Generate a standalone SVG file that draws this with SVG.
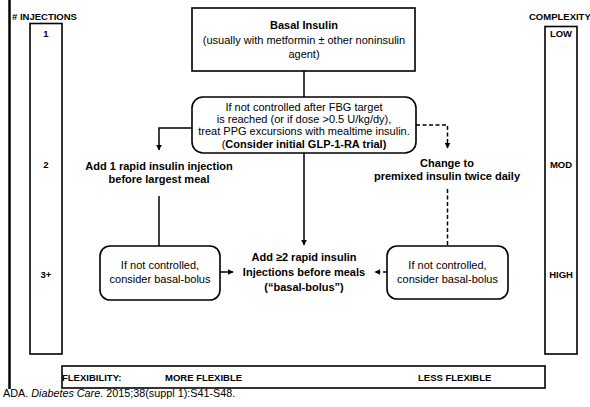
<svg xmlns="http://www.w3.org/2000/svg" width="590" height="407" viewBox="0 0 590 407">
<defs>
<style>
text{font-family:"Liberation Sans",Arial,sans-serif;fill:#000}
.t{font-size:11px}
.b{font-size:11px;font-weight:bold}
.s{font-size:9.5px;font-weight:bold}
.box{fill:#fff;stroke:#000;stroke-width:1.6}
.ln{fill:none;stroke:#000;stroke-width:1.5}
.dash{fill:none;stroke:#000;stroke-width:1.5;stroke-dasharray:4 2.5}
</style>
<marker id="ah" viewBox="0 0 10 10" refX="9" refY="5" markerWidth="6" markerHeight="6" orient="auto" markerUnits="userSpaceOnUse">
<path d="M0,0 L10,5 L0,10 z" fill="#000"/>
</marker>
</defs>
<rect width="590" height="407" fill="#fff"/>
<line x1="9.5" y1="0" x2="9.5" y2="389" stroke="#000" stroke-width="2.5"/>

<g id="injections">
<text class="s" x="12" y="20">#&#160;INJECTIONS</text>
<rect class="box" x="30" y="23.5" width="32" height="330.5" stroke-width="1.3"/>
<text class="s" x="46" y="37" text-anchor="middle">1</text>
<text class="s" x="46" y="168" text-anchor="middle">2</text>
<text class="s" x="46" y="278" text-anchor="middle">3+</text>
</g>

<g id="complexity">
<text class="s" x="529" y="20">COMPLEXITY</text>
<rect class="box" x="545" y="26.5" width="32" height="327.5" stroke-width="1.3"/>
<text class="s" x="561" y="37" text-anchor="middle">LOW</text>
<text class="s" x="561" y="168" text-anchor="middle">MOD</text>
<text class="s" x="561" y="278" text-anchor="middle">HIGH</text>
</g>

<g id="connectors">
<line class="ln" x1="304" y1="71" x2="304" y2="97"/>
<polyline class="ln" points="192,128 159,128 159,150" marker-end="url(#ah)"/>
<line class="ln" x1="304" y1="153" x2="304" y2="245" marker-end="url(#ah)"/>
<polyline class="dash" points="416,125 447.5,125 447.5,148" marker-end="url(#ah)"/>
<line class="ln" x1="159" y1="196" x2="159" y2="246"/>
<line class="dash" x1="447.5" y1="189" x2="447.5" y2="246"/>
<line class="ln" x1="220" y1="272" x2="233" y2="272" marker-end="url(#ah)"/>
<line class="dash" x1="387" y1="272" x2="375" y2="272" marker-end="url(#ah)"/>
</g>

<g id="basal">
<rect class="box" x="192" y="8" width="223" height="63" stroke-width="2"/>
<text class="b" x="304" y="29" text-anchor="middle">Basal Insulin</text>
<text class="t" x="304" y="44" text-anchor="middle">(usually with metformin ± other noninsulin</text>
<text class="t" x="304" y="58" text-anchor="middle">agent)</text>
</g>

<g id="notcontrolled">
<rect class="box" x="192" y="97" width="224" height="56" rx="11" stroke-width="1.8"/>
<text class="t" x="304" y="111" text-anchor="middle">If not controlled after FBG target</text>
<text class="t" x="304" y="123" text-anchor="middle">is reached (or if dose &gt;0.5 U/kg/dy),</text>
<text class="t" x="304" y="135" text-anchor="middle">treat PPG excursions with mealtime insulin.</text>
<text class="t" x="304" y="148" text-anchor="middle">(<tspan font-weight="bold">Consider initial GLP-1-RA trial)</tspan></text>
</g>

<g id="add1">
<text class="b" x="159" y="170" text-anchor="middle">Add 1 rapid insulin injection</text>
<text class="b" x="159" y="183" text-anchor="middle">before largest meal</text>
</g>

<g id="premixed">
<text class="b" x="447" y="167" text-anchor="middle">Change to</text>
<text class="b" x="447" y="180" text-anchor="middle">premixed insulin twice daily</text>
</g>

<g id="leftbox">
<rect class="box" x="100" y="246" width="120" height="54" rx="10"/>
<text class="t" x="160" y="269" text-anchor="middle">If not controlled,</text>
<text class="t" x="160" y="283" text-anchor="middle">consider basal-bolus</text>
</g>

<g id="rightbox">
<rect class="box" x="387" y="246" width="121" height="53" rx="10"/>
<text class="t" x="447.5" y="269" text-anchor="middle">If not controlled,</text>
<text class="t" x="447.5" y="283" text-anchor="middle">consider basal-bolus</text>
</g>

<g id="basalbolus">
<text class="b" x="304" y="261" text-anchor="middle">Add ≥2 rapid insulin</text>
<text class="b" x="304" y="276" text-anchor="middle">Injections before meals</text>
<text class="b" x="304" y="291" text-anchor="middle">(“basal-bolus”)</text>
</g>

<g id="flexibility">
<rect class="box" x="62" y="366" width="483" height="22" stroke-width="2"/>
<text class="s" x="62" y="381">FLEXIBILITY:</text>
<text class="s" x="165" y="381">MORE FLEXIBLE</text>
<text class="s" x="418" y="381">LESS FLEXIBLE</text>
</g>

<text x="3" y="397" style="font-size:10.8px">ADA. <tspan font-style="italic">Diabetes Care</tspan>. 2015;38(suppl 1):S41-S48.</text>
</svg>
